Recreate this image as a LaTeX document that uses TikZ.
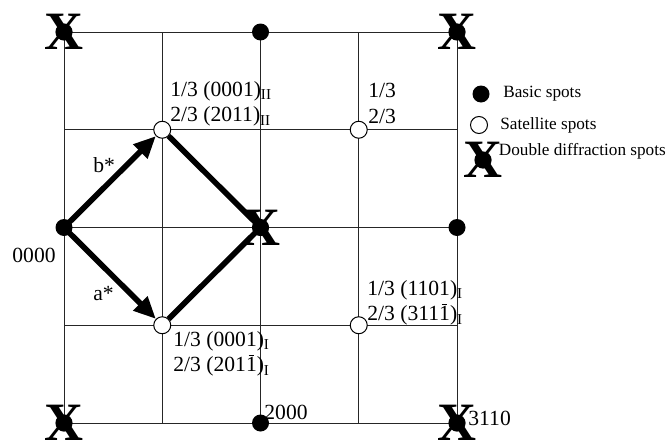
\documentclass[tikz,border=0pt]{standalone}
\usepackage{fontspec}
\setmainfont{Liberation Serif}
\usetikzlibrary{arrows.meta,positioning}

\newcommand{\barone}{\ooalign{1\cr\hidewidth\rule[0.74em]{0.26em}{0.055em}\hidewidth\cr}}

\begin{document}
\begin{tikzpicture}[x=0.5pt, y=-0.5pt,
  gridline/.style={draw=black!85, line width=0.5pt},
  basic/.style={circle, fill=black, inner sep=0pt, minimum size=8.5pt},
  satellite/.style={circle, draw=black, fill=white, line width=0.5pt, inner sep=0pt, minimum size=8.5pt},
  ddspot/.style={inner sep=0pt, font=\fontsize{27}{27}\selectfont\bfseries,
    path picture={\fill (path picture bounding box.center) circle (4.3pt);}},
  lbl/.style={inner sep=0pt, align=left, font=\fontsize{10.8}{12.8}\selectfont},
  legtext/.style={inner sep=0pt, font=\fontsize{8.6}{10}\selectfont},
  vec/.style={line width=2.8pt, -{Triangle[length=11pt, width=9.5pt]}},
  side/.style={line width=2.8pt}]
  \useasboundingbox (0,0) rectangle (668,439);

  % reciprocal lattice grid
  \foreach \x in {64,162.25,260.5,358.75,457}
    \draw[gridline] (\x,32) -- (\x,423);
  \foreach \y in {32,129.75,227.5,325.25,423}
    \draw[gridline] (64,\y) -- (457,\y);

  % basic spots
  \node[basic] (b1) at (260.5,32) {};
  \node[basic] (o) at (64,227.5) {};
  \node[basic] (b3) at (457,227.5) {};
  \node[basic] (b4) at (260.5,423) {};

  % satellite spots
  \node[satellite] (s1) at (162.25,129.75) {};
  \node[satellite] (s2) at (358.75,129.75) {};
  \node[satellite] (s3) at (162.25,325.25) {};
  \node[satellite] (s4) at (358.75,325.25) {};

  % double diffraction spots
  \node[ddspot] (x1) at (64,32) {X};
  \node[ddspot] (x2) at (457,32) {X};
  \node[ddspot] (x3) at (64,423) {X};
  \node[ddspot] (x4) at (457,423) {X};
  \node[ddspot] (x5) at (260.5,227.5) {X};

  \draw[vec] (o.center) -- (s1);
  \draw[vec] (o.center) -- (s3);
  \draw[side] (s1) -- (x5.center);
  \draw[side] (s3) -- (x5.center);

  % labels
  \node[lbl, anchor=base west] (lbs) at (93,172) {b*};
  \node[lbl, anchor=base west] (las) at (93,300) {a*};
  \node[lbl, anchor=north west] (l0) at (12,248) {0000};
  \node[lbl, anchor=north west] (l2) at (264,405) {2000};
  \node[lbl, anchor=north west] (l3) at (468,411) {3110};
  \node[lbl, anchor=north west] (ls1) at (170,81)
    {1/3 (0001)\textsubscript{II}\\2/3 (2011)\textsubscript{II}};
  \node[lbl, anchor=north west] (ls2) at (368,83) {1/3\\2/3};
  \node[lbl, anchor=north west] (ls3) at (173,331)
    {1/3 (0001)\textsubscript{I}\\2/3 (201\barone)\textsubscript{I}};
  \node[lbl, anchor=north west] (ls4) at (367,280)
    {1/3 (1101)\textsubscript{I}\\2/3 (311\barone)\textsubscript{I}};

  % legend
  \node[basic] (kb) at (481,94) {};
  \node[legtext, right=6.5pt of kb] (kbt) {Basic spots};
  \node[satellite] (ks) at (479,125) {};
  \node[legtext, right=6pt of ks] (kst) {Satellite spots};
  \node[ddspot] (kd) at (483,160) {X};
  \node[legtext, right=-2.2pt of kd, yshift=4.5pt] (kdt) {Double diffraction spots};
\end{tikzpicture}
\end{document}
